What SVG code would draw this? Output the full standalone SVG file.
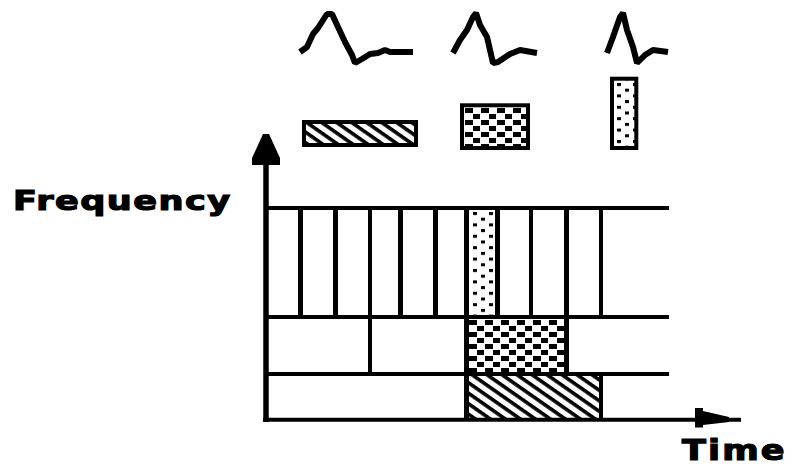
<svg xmlns="http://www.w3.org/2000/svg" width="791" height="468" viewBox="0 0 791 468">
  <style>
    .ln { stroke: #000; stroke-width: 4.5; fill: none; }
    .box { stroke: #000; stroke-width: 4; }
    .wave { stroke: #000; stroke-width: 6; fill: none; stroke-linejoin: bevel; }
    .lbl { font-family: "DejaVu Sans", "Liberation Sans", sans-serif; font-weight: bold; fill: #000; stroke: #000; stroke-width: 1.2; }
  </style>
  <defs>
    <pattern id="hatch" patternUnits="userSpaceOnUse" width="10" height="8.6" patternTransform="rotate(35)">
      <rect x="0" y="0" width="10" height="3.6" fill="#000"/>
    </pattern>
    <pattern id="brick" patternUnits="userSpaceOnUse" x="468" y="319" width="16" height="12">
      <rect x="1" y="1" width="8" height="5" fill="#000"/>
      <rect x="9" y="7" width="8" height="5" fill="#000"/>
    </pattern>
    <pattern id="brick2" patternUnits="userSpaceOnUse" x="464" y="107" width="16" height="12">
      <rect x="1" y="1" width="8" height="5" fill="#000"/>
      <rect x="9" y="7" width="8" height="5" fill="#000"/>
    </pattern>
    <pattern id="stip" patternUnits="userSpaceOnUse" x="473" y="212" width="16" height="11.4">
      <rect x="0" y="0" width="4" height="3" fill="#000"/>
      <rect x="8" y="5.7" width="4" height="3" fill="#000"/>
    </pattern>
    <pattern id="stip2" patternUnits="userSpaceOnUse" x="617" y="83" width="16" height="11.4">
      <rect x="0" y="0" width="4" height="3" fill="#000"/>
      <rect x="8" y="5.7" width="4" height="3" fill="#000"/>
    </pattern>
  </defs>
  <rect width="791" height="468" fill="#fff"/>

  <g id="waveforms">
    <polyline class="wave" points="300,52 307,47 313,34 318,28 327,14 332,14 338,27 345,42 352,55 355,63 362,59 370,54 378,53 385,50 390,52 413,52"/>
    <polyline class="wave" points="453,53 460,40 467,30 473,17 476,13 480,25 487,37 493,63 498,62 510,54 520,50 537,53"/>
    <polyline class="wave" points="607,53 613,37 620,17 623,13 627,30 633,47 637,63 645,55 653,50 668,52"/>
  </g>

  <g id="legend">
    <rect class="box" x="304" y="122" width="112" height="23" fill="url(#hatch)"/>
    <rect class="box" x="462" y="105.3" width="66" height="42.7" fill="url(#brick2)"/>
    <rect class="box" x="612" y="78.7" width="24.3" height="69.3" fill="url(#stip2)"/>
  </g>

  <g id="grid" shape-rendering="crispEdges">
    <rect x="466.5" y="208" width="31" height="109" fill="url(#stip)"/>
    <rect x="466.5" y="317" width="100" height="57" fill="url(#brick)"/>
    <rect x="466.5" y="374" width="134.5" height="46" fill="url(#hatch)"/>
    <line class="ln" x1="266" y1="208" x2="669" y2="208"/>
    <line class="ln" x1="266" y1="317" x2="669" y2="317"/>
    <line class="ln" x1="266" y1="374" x2="669" y2="374"/>
    <line class="ln" x1="300.5" y1="208" x2="300.5" y2="317"/>
    <line class="ln" x1="335.5" y1="208" x2="335.5" y2="317"/>
    <line class="ln" x1="370" y1="208" x2="370" y2="374"/>
    <line class="ln" x1="400.5" y1="208" x2="400.5" y2="317"/>
    <line class="ln" x1="435.5" y1="208" x2="435.5" y2="317"/>
    <line class="ln" x1="466.5" y1="208" x2="466.5" y2="420"/>
    <line class="ln" x1="497.5" y1="208" x2="497.5" y2="317"/>
    <line class="ln" x1="531" y1="208" x2="531" y2="317"/>
    <line class="ln" x1="566.5" y1="208" x2="566.5" y2="374"/>
    <line class="ln" x1="601" y1="208" x2="601" y2="317"/>
    <line class="ln" x1="601" y1="374" x2="601" y2="420"/>
  </g>

  <g id="axes">
    <line x1="266" y1="140" x2="266" y2="422" stroke="#000" stroke-width="5.5"/>
    <polygon points="263,134 269,134 280,158 280,165 252,165 252,158" fill="#000"/>
    <line x1="263" y1="419.8" x2="741" y2="419.8" stroke="#000" stroke-width="4"/>
    <polygon points="695,408 703,408 703,411 729,417 729,422 703,425 703,427.5 695,427.5" fill="#000"/>
  </g>

  <g id="labels">
    <text class="lbl" transform="translate(13,210) scale(1.3,1)" x="0" y="0" font-size="27" textLength="167" lengthAdjust="spacing">Frequency</text>
    <text class="lbl" transform="translate(682,460) scale(1.25,1)" x="0" y="0" font-size="28" textLength="82" lengthAdjust="spacing">Time</text>
  </g>
</svg>
